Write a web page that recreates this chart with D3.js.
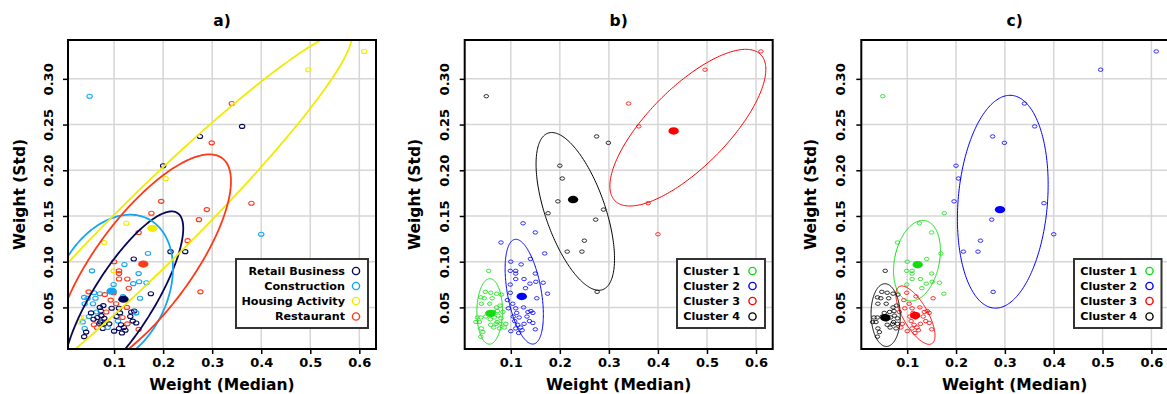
<!DOCTYPE html>
<html>
<head>
<meta charset="utf-8">
<script src="https://cdn.jsdelivr.net/npm/d3@7"></script>
<style>
  html, body { margin: 0; padding: 0; background: #ffffff; }
  svg { display: block; }
  text { font-family: "DejaVu Sans", sans-serif; font-weight: bold; fill: #000; }
</style>
</head>
<body>
<svg id="chart" width="1167" height="394"></svg>
<script>
// ---- data: one row per business (median weight, std of weight) ----
const medianWeight = [
  0.050, 0.340, 0.361, 0.496, 0.610, 0.380, 0.400, 0.275, 0.299, 0.200,
  0.205, 0.196, 0.289, 0.176, 0.273, 0.250, 0.215, 0.245, 0.276,
  0.125, 0.150, 0.080, 0.169, 0.140, 0.100, 0.121, 0.099, 0.110, 0.110,
  0.150, 0.110, 0.127, 0.151, 0.166, 0.139, 0.130, 0.175, 0.153, 0.099,
  0.093, 0.099, 0.118, 0.104, 0.095, 0.110, 0.126, 0.141, 0.112, 0.105,
  0.117, 0.133, 0.138, 0.108, 0.114, 0.120, 0.110, 0.127, 0.145, 0.100,
  0.116, 0.150, 0.123, 0.135, 0.145,
  0.055, 0.048, 0.059, 0.071, 0.081, 0.039, 0.046, 0.040, 0.057, 0.071,
  0.078, 0.032, 0.039, 0.049, 0.036, 0.029, 0.058, 0.066, 0.074, 0.080,
  0.072, 0.059, 0.070, 0.080, 0.090, 0.040, 0.043, 0.039, 0.073, 0.064,
  0.053, 0.084, 0.065, 0.077, 0.087, 0.062
];
const stdWeight = [
  0.281, 0.273, 0.248, 0.310, 0.330, 0.164, 0.130, 0.237, 0.230, 0.205,
  0.191, 0.166, 0.157, 0.153, 0.146, 0.123, 0.111, 0.111, 0.067,
  0.142, 0.132, 0.121, 0.109, 0.103, 0.100, 0.097, 0.090, 0.090, 0.087,
  0.087, 0.081, 0.081, 0.078, 0.077, 0.076, 0.071, 0.065, 0.060, 0.075,
  0.058, 0.066, 0.062, 0.054, 0.049, 0.049, 0.050, 0.046, 0.044, 0.040,
  0.039, 0.040, 0.035, 0.035, 0.031, 0.028, 0.027, 0.032, 0.033, 0.024,
  0.022, 0.026, 0.025, 0.045, 0.044,
  0.090, 0.067, 0.066, 0.065, 0.064, 0.061, 0.060, 0.054, 0.054, 0.050,
  0.052, 0.039, 0.039, 0.040, 0.034, 0.034, 0.037, 0.039, 0.041, 0.038,
  0.034, 0.031, 0.032, 0.032, 0.032, 0.027, 0.023, 0.018, 0.046, 0.045,
  0.044, 0.045, 0.028, 0.027, 0.028, 0.060
];
// industry index: 0 Retail Business, 1 Construction, 2 Housing Activity, 3 Restaurant
const industryOf = [
  1, 3, 0, 2, 2, 3, 1, 0, 3, 0,
  2, 3, 3, 3, 3, 3, 0, 0, 3,
  2, 3, 2, 1, 0, 3, 1, 2, 3, 3,
  1, 3, 3, 1, 1, 1, 3, 0, 1, 1,
  3, 3, 1, 3, 0, 0, 3, 0, 0, 0,
  3, 0, 0, 1, 0, 0, 0, 3, 0, 0,
  0, 3, 0, 0, 1,
  1, 3, 1, 1, 3, 1, 1, 1, 1, 0,
  0, 2, 2, 1, 1, 2, 0, 0, 0, 0,
  0, 3, 0, 0, 0, 1, 0, 0, 0, 1,
  0, 3, 3, 0, 1, 1
];
// cluster index (0..3) of each business in the two clusterings
const clusterB = [
  3, 2, 2, 2, 2, 2, 2, 3, 3, 3,
  3, 3, 3, 3, 3, 3, 3, 3, 3,
  1, 1, 1, 1, 1, 1, 1, 1, 1, 1,
  1, 1, 1, 1, 1, 1, 1, 1, 1, 1,
  1, 1, 1, 1, 1, 1, 1, 1, 1, 1,
  1, 1, 1, 1, 1, 1, 1, 1, 1, 1,
  1, 1, 1, 1, 1,
  0, 0, 0, 0, 0, 0, 0, 0, 0, 0,
  0, 0, 0, 0, 0, 0, 0, 0, 0, 0,
  0, 0, 0, 0, 0, 0, 0, 0, 0, 0,
  0, 0, 0, 0, 0, 0
];
const clusterC = [
  0, 1, 1, 1, 1, 1, 1, 1, 1, 1,
  1, 1, 1, 0, 1, 1, 1, 1, 1,
  0, 0, 0, 0, 0, 0, 0, 0, 0, 0,
  0, 0, 0, 0, 0, 0, 0, 0, 2, 0,
  2, 2, 2, 2, 2, 2, 2, 2, 2, 2,
  2, 2, 2, 2, 2, 2, 2, 2, 2, 2,
  2, 2, 2, 2, 2,
  3, 3, 3, 3, 3, 3, 3, 3, 3, 3,
  3, 3, 3, 3, 3, 3, 3, 3, 3, 3,
  3, 3, 3, 3, 2, 3, 3, 3, 3, 3,
  3, 2, 3, 3, 2, 3
];

const industryNames = ["Retail Business", "Construction", "Housing Activity", "Restaurant"];
const clusterNames = ["Cluster 1", "Cluster 2", "Cluster 3", "Cluster 4"];

// group centres [median, std]
const industryCentres = [[0.119, 0.059], [0.095, 0.0678], [0.178, 0.1365], [0.1596, 0.0974]];
const clusterCentresB = [[0.059, 0.0434], [0.1224, 0.062], [0.432, 0.243], [0.227, 0.168]];
const clusterCentresC = [[0.1215, 0.0967], [0.290, 0.157], [0.1163, 0.0412], [0.0553, 0.0387]];

// spread ellipses: [centre median, centre std, half-range median, half-range std, correlation]
const industryEllipses = [
  [0.119, 0.059, 0.122, 0.096, 0.806],
  [0.095, 0.0678, 0.125, 0.0836, 0.30],
  [0.178, 0.1365, 0.406, 0.2155, 0.966],
  [0.1596, 0.0974, 0.1787, 0.120, 0.755]
];
const clusterEllipsesB = [
  [0.0569, 0.0456, 0.0261, 0.0358, 0.02],
  [0.1274, 0.0672, 0.039, 0.0573, -0.44],
  [0.461, 0.2466, 0.159, 0.0857, 0.744],
  [0.2315, 0.155, 0.080, 0.0863, -0.60]
];
const clusterEllipsesC = [
  [0.120, 0.1011, 0.048, 0.0441, 0.25],
  [0.2957, 0.1656, 0.0929, 0.1164, 0.16],
  [0.1169, 0.0415, 0.040, 0.0319, -0.70],
  [0.0559, 0.0416, 0.0299, 0.0343, -0.05]
];

const xTicks = [0.1, 0.2, 0.3, 0.4, 0.5, 0.6];
const yTicks = [0.05, 0.10, 0.15, 0.20, 0.25, 0.30];
const xDomain = [0.006, 0.634];
const yDomain = [0.0045, 0.3425];

// ---- drawing ----
(function () {
  const industryColors = ["#07075a", "#14a6f2", "#f0ec00", "#ff3a18"];
  const clusterColors = ["#12dd12", "#0000ff", "#ff0000", "#000000"];

  const svg = d3.select("#chart");

  const panels = [
    { title: "a)", left: 68, right: 376, ytick: 48, ytitle: 20,
      groupOf: industryOf, colors: industryColors, names: industryNames,
      centres: industryCentres, ellipses: industryEllipses,
      ptRx: 2.7, ptRy: 2.0, ptW: 1.1, lineW: 1.8, cenRx: 5.2, cenRy: 3.6,
      legend: { x0: 236, x1: 368, y0: 259, y1: 328, textX: 345, symX: 356 } },
    { title: "b)", left: 464.7, right: 772.7, ytick: 444, ytitle: 415,
      groupOf: clusterB, colors: clusterColors, names: clusterNames,
      centres: clusterCentresB, ellipses: clusterEllipsesB,
      ptRx: 2.3, ptRy: 1.7, ptW: 0.8, lineW: 1.0, cenRx: 5.2, cenRy: 3.7,
      legend: { x0: 677, x1: 765, y0: 259, y1: 328, textX: 740, symX: 752.5 } },
    { title: "c)", left: 861.3, right: 1168, ytick: 840.5, ytitle: 811,
      groupOf: clusterC, colors: clusterColors, names: clusterNames,
      centres: clusterCentresC, ellipses: clusterEllipsesC,
      ptRx: 2.3, ptRy: 1.7, ptW: 0.8, lineW: 1.0, cenRx: 5.2, cenRy: 3.7,
      legend: { x0: 1074, x1: 1161.5, y0: 259, y1: 328, textX: 1137, symX: 1149.5 } }
  ];
  const plotTop = 40, plotBottom = 349;
  const legendRows = [271, 286, 301, 316.5];

  const points = medianWeight.map((m, i) => ({ m: m, s: stdWeight[i], i: i }));

  panels.forEach((p, pi) => {
    const x = d3.scaleLinear().domain(xDomain).range([p.left, p.right]);
    const y = d3.scaleLinear().domain(yDomain).range([plotBottom, plotTop]);
    const g = svg.append("g");

    const clipId = "clip" + pi;
    g.append("clipPath").attr("id", clipId)
      .append("rect").attr("x", p.left).attr("y", plotTop)
      .attr("width", p.right - p.left).attr("height", plotBottom - plotTop);

    // grid
    g.append("g").selectAll("line").data(xTicks).join("line")
      .attr("x1", d => x(d)).attr("x2", d => x(d))
      .attr("y1", plotTop).attr("y2", plotBottom)
      .attr("stroke", "#d6d6d6").attr("stroke-width", 1.5);
    g.append("g").selectAll("line").data(yTicks).join("line")
      .attr("x1", p.left).attr("x2", p.right)
      .attr("y1", d => y(d)).attr("y2", d => y(d))
      .attr("stroke", "#d6d6d6").attr("stroke-width", 1.5);

    const plot = g.append("g").attr("clip-path", `url(#${clipId})`);

    // observations
    plot.append("g").selectAll("ellipse").data(points).join("ellipse")
      .attr("cx", d => x(d.m)).attr("cy", d => y(d.s))
      .attr("rx", p.ptRx).attr("ry", p.ptRy)
      .attr("fill", "none")
      .attr("stroke", d => p.colors[p.groupOf[d.i]])
      .attr("stroke-width", p.ptW);

    // spread ellipses
    const steps = d3.range(0, 241).map(k => k / 240 * 2 * Math.PI);
    const line = d3.line().x(d => d[0]).y(d => d[1]);
    plot.append("g").selectAll("path").data(p.ellipses).join("path")
      .attr("d", e => {
        const [cx, cy, rx, ry, rho] = e;
        const q = Math.sqrt(1 - rho * rho);
        return line(steps.map(t => [x(cx + rx * Math.cos(t)),
                                    y(cy + ry * (rho * Math.cos(t) + q * Math.sin(t)))]));
      })
      .attr("fill", "none")
      .attr("stroke", (e, k) => p.colors[k])
      .attr("stroke-width", p.lineW);

    // group centres
    plot.append("g").selectAll("ellipse").data(p.centres).join("ellipse")
      .attr("cx", c => x(c[0])).attr("cy", c => y(c[1]))
      .attr("rx", p.cenRx).attr("ry", p.cenRy)
      .attr("fill", (c, k) => p.colors[k]);

    // frame
    g.append("rect").attr("x", p.left).attr("y", plotTop)
      .attr("width", p.right - p.left).attr("height", plotBottom - plotTop)
      .attr("fill", "none").attr("stroke", "#000").attr("stroke-width", 2);

    // axes
    const xAxis = g.append("g").attr("transform", `translate(0,${plotBottom})`)
      .call(d3.axisBottom(x).tickValues(xTicks).tickFormat(d3.format(".1f")).tickSize(5).tickPadding(4));
    xAxis.select(".domain").remove();
    xAxis.selectAll("line").attr("stroke", "#000").attr("stroke-width", 1.5);
    xAxis.selectAll("text").attr("font-size", 13)
      .attr("font-family", "DejaVu Sans").attr("font-weight", "bold");

    const yAxis = g.append("g").attr("transform", `translate(${p.left},0)`)
      .call(d3.axisLeft(y).tickValues(yTicks).tickFormat(d3.format(".2f")).tickSize(5));
    yAxis.select(".domain").remove();
    yAxis.selectAll("line").attr("stroke", "#000").attr("stroke-width", 1.5);
    yAxis.selectAll("text")
      .attr("x", null).attr("dy", null)
      .attr("text-anchor", "middle")
      .attr("dominant-baseline", "central")
      .attr("font-size", 13)
      .attr("font-family", "DejaVu Sans").attr("font-weight", "bold")
      .attr("transform", `translate(${p.ytick - p.left},0) rotate(-90)`);

    // titles
    const midX = (p.left + p.right) / 2;
    g.append("text").attr("x", midX).attr("y", 21)
      .attr("text-anchor", "middle").attr("dominant-baseline", "central")
      .attr("font-size", 15.5).text(p.title);
    g.append("text").attr("x", midX).attr("y", 385)
      .attr("text-anchor", "middle").attr("dominant-baseline", "central")
      .attr("font-size", 15.5).text("Weight (Median)");
    g.append("text")
      .attr("transform", `translate(${p.ytitle},${(plotTop + plotBottom) / 2}) rotate(-90)`)
      .attr("text-anchor", "middle").attr("dominant-baseline", "central")
      .attr("font-size", 15.5).text("Weight (Std)");

    // legend
    const L = p.legend;
    const lg = g.append("g");
    lg.append("rect").attr("x", L.x0).attr("y", L.y0)
      .attr("width", L.x1 - L.x0).attr("height", L.y1 - L.y0)
      .attr("fill", "#fff").attr("stroke", "#333").attr("stroke-width", 2);
    lg.selectAll("text").data(p.names).join("text")
      .attr("x", L.textX).attr("y", (d, k) => legendRows[k])
      .attr("text-anchor", "end").attr("dominant-baseline", "central")
      .attr("font-size", 11.2).text(d => d);
    lg.selectAll("circle").data(p.names).join("circle")
      .attr("cx", L.symX).attr("cy", (d, k) => legendRows[k]).attr("r", 3.6)
      .attr("fill", "none").attr("stroke", (d, k) => p.colors[k]).attr("stroke-width", 1.4);
  });
})();
</script>
</body>
</html>
